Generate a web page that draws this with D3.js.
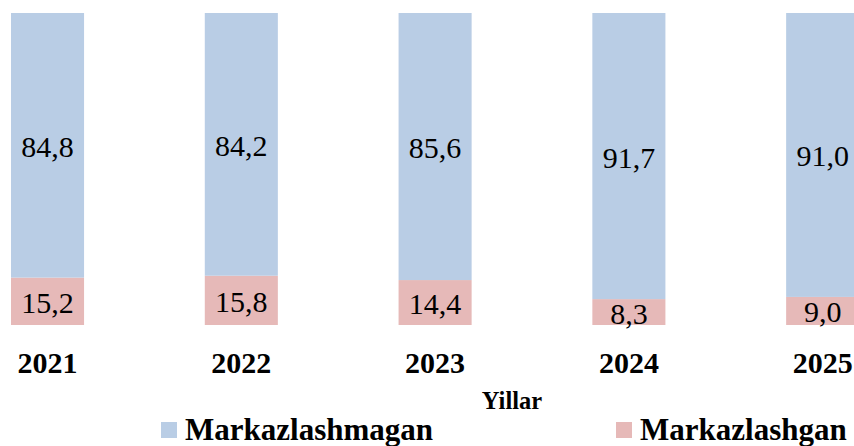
<!DOCTYPE html>
<html><head><meta charset="utf-8">
<script src="https://cdn.jsdelivr.net/npm/d3@7/dist/d3.min.js"></script>
<style>html,body{margin:0;padding:0;background:#fff;overflow:hidden}</style>
</head><body><svg id="c" width="854" height="446"></svg>
<script>
const years = ["2021","2022","2023","2024","2025"];
const markazlashgan = [15.2, 15.8, 14.4, 8.3, 9.0];
const markazlashmagan = [84.8, 84.2, 85.6, 91.7, 91.0];
const seriesNames = ["Markazlashmagan", "Markazlashgan"];
const colors = ["#B9CDE5", "#E6B9B8"];
const axisTitle = "Yillar";

const svg = d3.select("#c");
const font = "'Liberation Serif','Times New Roman',serif";
const x = d3.scaleBand().domain(years).range([11, 859.2]).paddingInner(0.623).paddingOuter(0);
const y = d3.scaleLinear().domain([0, 100]).range([325, 13]);

const rows = years.map((yr, i) => ({year: yr, Markazlashgan: markazlashgan[i], Markazlashmagan: markazlashmagan[i]}));
const stack = d3.stack().keys(["Markazlashgan", "Markazlashmagan"]);
const stacked = stack(rows);
const colorOf = {Markazlashmagan: colors[0], Markazlashgan: colors[1]};

const g = svg.append("g");
stacked.forEach(s => {
  g.selectAll(null).data(s).enter().append("rect")
    .attr("x", d => x(d.data.year))
    .attr("width", x.bandwidth())
    .attr("y", d => y(d[1]))
    .attr("height", d => y(d[0]) - y(d[1]))
    .attr("fill", colorOf[s.key]);
  g.selectAll(null).data(s).enter().append("text")
    .attr("x", d => x(d.data.year) + x.bandwidth() / 2)
    .attr("y", d => (y(d[0]) + y(d[1])) / 2 + 11.5)
    .attr("text-anchor", "middle")
    .attr("font-family", font).attr("font-size", 30).attr("fill", "#000")
    .text(d => (d[1] - d[0]).toFixed(1).replace(".", ","));
});

// category axis
const axis = d3.axisBottom(x).tickSize(0).tickPadding(0);
const ax = svg.append("g").attr("transform", "translate(0,325)").call(axis);
ax.select(".domain").remove();
ax.selectAll("text").attr("font-family", font).attr("font-size", 30).attr("font-weight", "bold")
  .attr("fill", "#000").attr("dy", null).attr("y", 48);

svg.append("text").attr("x", 512).attr("y", 409).attr("text-anchor", "middle")
  .attr("font-family", font).attr("font-size", 24.5).attr("font-weight", "bold").text(axisTitle);

// legend
const legendX = [161, 616];
seriesNames.forEach((n, i) => {
  svg.append("rect").attr("x", legendX[i]).attr("y", 422).attr("width", 16).attr("height", 16).attr("fill", colors[i]);
  svg.append("text").attr("x", legendX[i] + 24).attr("y", 440)
    .attr("font-family", font).attr("font-size", 31).attr("font-weight", "bold").text(n);
});
</script></body></html>
